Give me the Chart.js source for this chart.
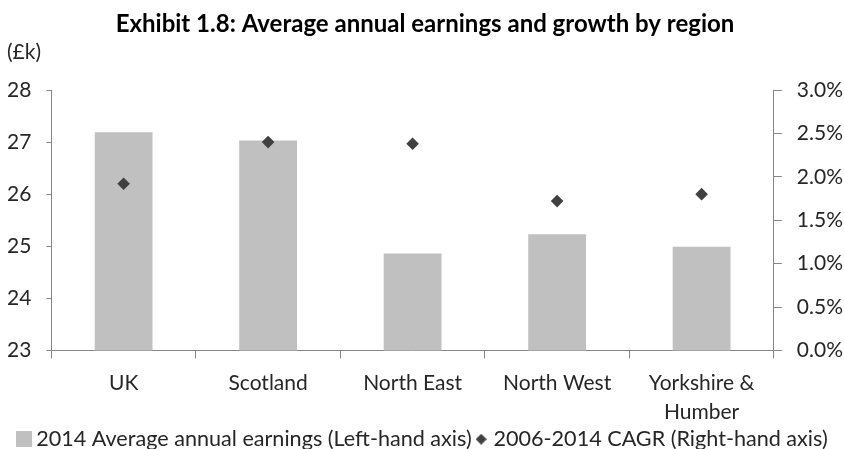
<!DOCTYPE html>
<html>
<head>
<meta charset="utf-8">
<script src="https://cdn.jsdelivr.net/npm/chart.js@4/dist/chart.umd.min.js"></script>
<style>
  html, body { margin: 0; padding: 0; background: #fff; }
  #wrap { width: 844px; height: 449px; position: relative; }
</style>
</head>
<body>
<div id="wrap"><canvas id="myChart"></canvas></div>
<script>
// 地域ごとの平均年収と成長率
const regions = ['UK', 'Scotland', 'North East', 'North West', ['Yorkshire &', 'Humber']];
const earnings2014 = [27.19, 27.03, 24.86, 25.23, 24.99];   // £k
const cagr2006to2014 = [1.92, 2.40, 2.38, 1.72, 1.80];      // %
const leftTicks = [23, 24, 25, 26, 27, 28];
const rightTicks = [0, 0.5, 1.0, 1.5, 2.0, 2.5, 3.0];

const barColor = '#c0c0c0';
const markerColor = '#404040';
const axisColor = '#868686';
const textColor = '#262626';
const fontFamily = 'Lato, "Liberation Sans", sans-serif';

// 凡例用の小さいアイコン
function makeSquareIcon(size, color) {
    const c = document.createElement('canvas');
    c.width = size; c.height = size;
    const g = c.getContext('2d');
    g.fillStyle = color;
    g.fillRect(0, 0, size, size);
    return c;
}
function makeDiamondIcon(size, color) {
    const c = document.createElement('canvas');
    c.width = size; c.height = size;
    const g = c.getContext('2d');
    const h = size / 2;
    g.fillStyle = color;
    g.beginPath();
    g.moveTo(h, 0); g.lineTo(size, h); g.lineTo(h, size); g.lineTo(0, h);
    g.closePath();
    g.fill();
    return c;
}
const squareIcon = makeSquareIcon(16, barColor);
const diamondIcon = makeDiamondIcon(11, markerColor);

const ctx = document.getElementById('myChart').getContext('2d');
window.myChartInstance = new Chart(ctx, {
    type: 'bar',
    data: {
        labels: regions,
        datasets: [{
            type: 'line',
            label: '2006-2014 CAGR (Right-hand axis)',
            data: cagr2006to2014,
            yAxisID: 'y1',
            showLine: false,
            pointStyle: 'rectRot',
            pointRadius: 6.3,
            pointHoverRadius: 6.3,
            pointBorderWidth: 0,
            pointBackgroundColor: markerColor,
            pointBorderColor: markerColor,
            borderColor: markerColor,
            backgroundColor: markerColor,
            order: 0
        }, {
            type: 'bar',
            label: '2014 Average annual earnings (Left-hand axis)',
            data: earnings2014,
            yAxisID: 'y',
            backgroundColor: barColor,
            borderWidth: 0,
            categoryPercentage: 1.0,
            barPercentage: 0.4,
            order: 1
        }]
    },
    options: {
        responsive: true,
        maintainAspectRatio: false,
        animation: false,
        layout: { padding: { top: 10, left: 7, right: 1, bottom: -11 } },
        plugins: {
            title: {
                display: true,
                text: 'Exhibit 1.8: Average annual earnings and growth by region',
                color: '#000',
                font: { family: fontFamily, size: 24, weight: 'bold', lineHeight: 1.2 },
                padding: { top: 0, bottom: 0 }
            },
            subtitle: {
                display: true,
                text: '(£k)',
                align: 'start',
                color: textColor,
                font: { family: fontFamily, size: 21, lineHeight: 1.2 },
                padding: { top: 1, bottom: 25 }
            },
            legend: {
                position: 'bottom',
                reverse: true,
                labels: {
                    usePointStyle: true,
                    boxWidth: 3,
                    color: textColor,
                    font: { family: fontFamily, size: 21.6, lineHeight: 1.0 },
                    padding: 8,
                    generateLabels(chart) {
                        const items = Chart.defaults.plugins.legend.labels.generateLabels(chart);
                        items.forEach(item => {
                            item.pointStyle = item.datasetIndex === 1 ? squareIcon : diamondIcon;
                        });
                        return items;
                    }
                }
            },
            tooltip: { enabled: false }
        },
        scales: {
            x: {
                afterFit(scale) { scale.height = 70; },
                grid: {
                    offset: true,
                    drawOnChartArea: false,
                    drawTicks: true,
                    tickLength: 8,
                    color: axisColor
                },
                border: { display: true, color: axisColor, width: 1 },
                ticks: {
                    color: textColor,
                    padding: 10,
                    maxRotation: 0,
                    autoSkip: false,
                    font: { family: fontFamily, size: 21, lineHeight: 1.38 }
                }
            },
            y: {
                position: 'left',
                min: 23,
                max: 28,
                afterBuildTicks(scale) { scale.ticks = leftTicks.map(v => ({ value: v })); },
                // 外側の余分な余白を詰める
                afterFit(scale) { scale.width -= 15; },
                grid: { drawOnChartArea: false, drawTicks: true, tickLength: 5, color: axisColor },
                border: { display: true, color: axisColor, width: 1 },
                ticks: {
                    color: textColor,
                    padding: 15,
                    font: { family: fontFamily, size: 21 }
                }
            },
            y1: {
                position: 'right',
                min: 0,
                max: 3,
                afterBuildTicks(scale) { scale.ticks = rightTicks.map(v => ({ value: v })); },
                afterFit(scale) { scale.width -= 15; },
                grid: { drawOnChartArea: false, drawTicks: true, tickLength: 8, color: axisColor },
                border: { display: true, color: axisColor, width: 1 },
                ticks: {
                    color: textColor,
                    padding: 15,
                    font: { family: fontFamily, size: 21 },
                    callback: v => v.toFixed(1) + '%'
                }
            }
        }
    }
});
</script>
</body>
</html>
